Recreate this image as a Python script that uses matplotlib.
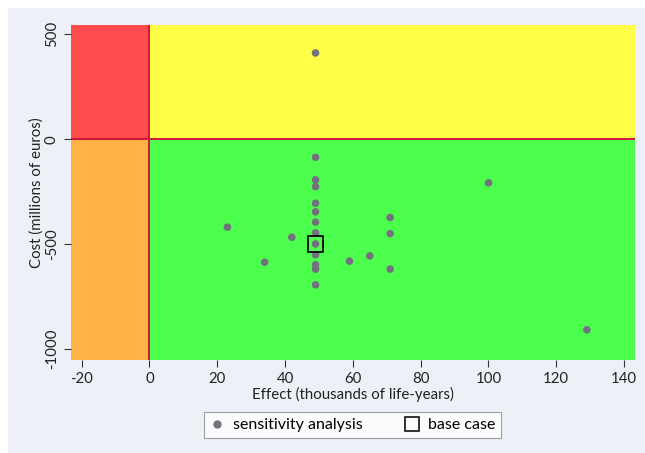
import matplotlib
matplotlib.use("Agg")
import matplotlib.pyplot as plt
from matplotlib.patches import Rectangle
from matplotlib.lines import Line2D

plt.rcParams['font.family'] = ['Lato', 'DejaVu Sans']
plt.rcParams['axes.unicode_minus'] = False

#------------------------------------------------------------------------------
# data

sens_effect = [49, 49, 49, 49, 49, 49, 49, 49, 49, 49, 49, 49, 49,
               23, 42, 34, 59, 65, 71, 71, 71, 100, 129]
sens_cost = [411, -86, -194, -226, -305, -346, -395, -446, -499, -551, -598, -619, -694,
             -419, -467, -586, -581, -556, -373, -450, -619, -208, -908]

base_effect = [49]
base_cost = [-499]

x_ticks = [-20, 0, 20, 40, 60, 80, 100, 120, 140]
y_ticks = [-1000, -500, 0, 500]

x_lim = (-23.2, 143.2)
y_lim = (-1052, 544)

#------------------------------------------------------------------------------

fig = plt.figure(figsize=(6.45, 4.53), dpi=100)
fig.patch.set_facecolor('white')
fig.patches.append(Rectangle((8 / 645, 0), 1, 1 - 8 / 453, transform=fig.transFigure,
                             facecolor='#EDF1F7', edgecolor='none', zorder=-10))

ax = fig.add_axes([70.7 / 645, 1 - 360 / 453, (635 - 70.7) / 645, (360 - 25) / 453])

# quadrants
ax.fill_between([x_lim[0], 0], 0, y_lim[1], color='#FF4D4D', lw=0, zorder=0)
ax.fill_between([0, x_lim[1]], 0, y_lim[1], color='#FFFF47', lw=0, zorder=0)
ax.fill_between([x_lim[0], 0], y_lim[0], 0, color='#FFB347', lw=0, zorder=0)
ax.fill_between([0, x_lim[1]], y_lim[0], 0, color='#4DFF4D', lw=0, zorder=0)
ax.axvline(0, color='#D4143C', lw=1.4, zorder=1)
ax.axhline(0, color='#D4143C', lw=1.4, zorder=1)

ax.scatter(sens_effect, sens_cost, s=30, color='#72727E', edgecolors='none', zorder=3)
ax.scatter(base_effect, base_cost, s=120, marker='s', facecolors='none',
           edgecolors='#111111', linewidths=1.4, zorder=4)

ax.set_xlim(x_lim)
ax.set_ylim(y_lim)
ax.set_xticks(x_ticks)
ax.set_yticks(y_ticks)
ax.tick_params(axis='both', direction='out', length=5, width=0.8, color='#333333',
               labelsize=10.8, labelcolor='#222222')
for lab in ax.get_yticklabels():
    lab.set_rotation(90)
    lab.set_va('center')
for s in ax.spines.values():
    s.set_visible(False)

ax.set_xlabel('Effect (thousands of life-years)', fontsize=10.8, color='#222222', labelpad=0.5)
ax.set_ylabel('Cost (millions of euros)', fontsize=10.8, color='#222222', labelpad=1)

handles = [Line2D([], [], ls='none', marker='o', color='#72727E', markersize=5),
           Line2D([], [], ls='none', marker='s', markerfacecolor='none',
                  markeredgecolor='#111111', markersize=10, markeredgewidth=1.2)]
leg = fig.legend(handles, ['sensitivity analysis', 'base case'], ncol=2,
                 loc='center', bbox_to_anchor=(352.5 / 645, 1 - 425 / 453),
                 frameon=True, fancybox=False, fontsize=11.5, handletextpad=0.5,
                 columnspacing=2.6, borderpad=0.35, handlelength=1.0)
leg.get_frame().set_edgecolor('#888888')
leg.get_frame().set_linewidth(0.8)

fig.savefig('out.png', dpi=100)
